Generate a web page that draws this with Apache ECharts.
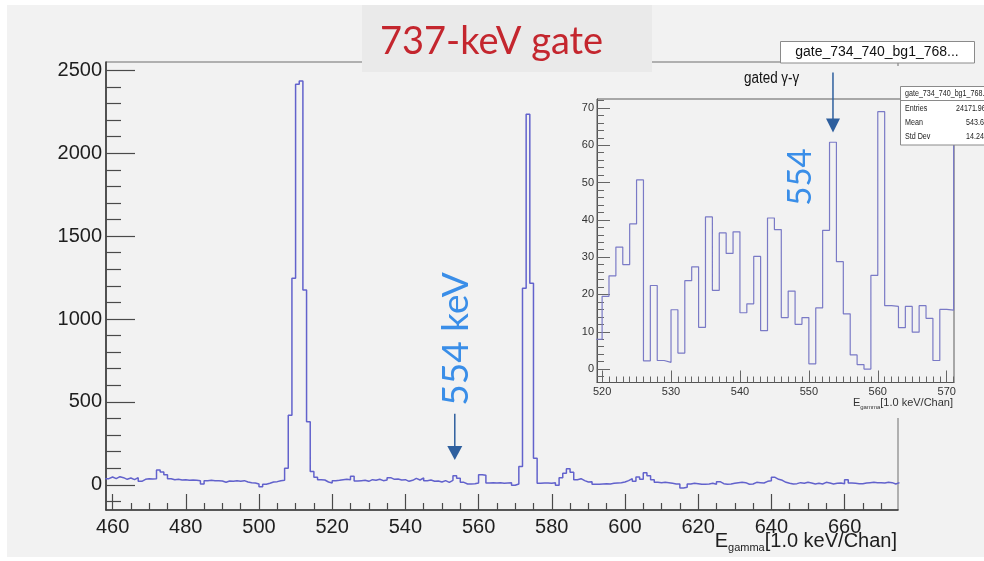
<!DOCTYPE html>
<html>
<head>
<meta charset="utf-8">
<script src="https://cdn.jsdelivr.net/npm/echarts@6/dist/echarts.min.js"></script>
<style>
  html, body { margin: 0; padding: 0; background: #ffffff; }
  #chart { width: 984px; height: 561px; }
</style>
</head>
<body>
<div id="chart"></div>
<script>
// Full spectrum, 1 keV bins, first bin starts at 458 keV
const spectrumStart = 458;
const spectrumCounts = [
  37, 47, 37, 49, 43, 33, 41, 31, 43, 21,      // 458-467
  33, 37, 35, 37, 90, 77, 61, 37, 31, 33,      // 468-477
  29, 31, 27, 29, 27, 25, 5, 25, 27, 25,       // 478-487
  25, 23, 15, 23, 21, 25, 21, 25, 17, 13,      // 488-497
  11, 5, -12, 3, 9, 17, 19, 25, 27, 100,       // 498-507
  420, 1245, 2416, 2435, 1175, 380, 80, 45, 31, 29, // 508-517
  17, 11, 25, 27, 31, 33, 31, 51, 23, 25,      // 518-527
  27, 21, 31, 27, 33, 25, 29, 43, 33, 35,      // 528-537
  29, 31, 21, 27, 39, 29, 41, 25, 29, 21,      // 538-547
  23, 17, 25, 15, 27, 55, 39, 15, 5, 5,        // 548-557
  7, 11, 61, 57, 11, 13, 11, 13, 9, 11,        // 558-567
  13, -3, 5, 110, 1185, 2235, 1215, 160, 9, 11, // 568-577
  11, 9, 13, -3, 43, 70, 97, 75, 31, 37,       // 578-587
  25, 17, 19, 3, 3, 5, 7, 5, 9, 11,            // 588-597
  13, 17, 25, 37, 21, 47, 33, 73, 55, 31,      // 598-607
  15, 13, 15, 13, 9, 5, 5, -19, -15, 5,        // 608-617
  9, 7, 3, 3, 5, 9, 3, 19, 7, 3,               // 618-627
  5, 9, 13, 15, 13, 3, 5, 15, 13, 11,          // 628-637
  21, 25, 45, 33, 27, 15, 9, 5, 7, 13,         // 638-647
  9, 15, 11, 5, 9, 5, 15, 11, 5, 9,            // 648-657
  11, 7, 31, 11, 9, 7, 7, 11, 13, 15,          // 658-667
  13, 13, 11, 15, 13, 5, 13                    // 668-674
];

// Gated gamma-gamma spectrum, 1 keV bins, first bin starts at 519 keV
const gatedStart = 519;
const gatedCounts = [
  8, 19.5, 25, 32.7, 28, 38.9, 50.7, 2.2, 22.4, 2.3,       // 519-528
  1.8, 15.9, 4.3, 23.7, 27.4, 11.2, 40.8, 21.1, 36.5, 31,  // 529-538
  36.8, 15.1, 17.5, 30.2, 10.3, 40.5, 37.4, 13.8, 20.9, 12, // 539-548
  13.8, 1.4, 16.4, 37.2, 60.8, 28.8, 14.8, 3.8, 1.2, 0,    // 549-558
  25.1, 69, 17, 16.8, 11.1, 16.8, 9.9, 17, 13.6, 2.3,      // 559-568
  16, 15.8, 110                                            // 569-571
];

// Tick labels
const mainXTicks = [460, 480, 500, 520, 540, 560, 580, 600, 620, 640, 660];
const mainYTicks = [0, 500, 1000, 1500, 2000, 2500];
const insetXTicks = [520, 530, 540, 550, 560, 570];
const insetYTicks = [0, 10, 20, 30, 40, 50, 60, 70];

// Marked line energy (keV, bin centre)
const markedEnergy = 553.5;

const SANS = "'Liberation Sans', Arial, Helvetica, sans-serif";
const NARROW = "'Liberation Sans Narrow', 'Arial Narrow', 'Liberation Sans', sans-serif";
const HUMAN = "Lato, 'Open Sans', sans-serif";

function range(from, to, step, skip) {
  const out = [];
  for (let v = from; v <= to + 1e-9; v += step) {
    if (!(skip && Math.abs(v % skip) < 1e-9)) out.push(v);
  }
  return out;
}

// Histogram outline: one point per bin low edge, plus the closing edge
function stepPoints(start, counts) {
  const pts = counts.map((c, i) => [start + i, c]);
  pts.push([start + counts.length, counts[counts.length - 1]]);
  return pts;
}

function majorAxis(gridIndex, min, max, ticks, tickLen, label) {
  return {
    type: 'value', gridIndex, min, max,
    axisLine: { show: true, onZero: false, lineStyle: { color: label.lineColor, width: label.lineWidth } },
    axisTick: { show: true, inside: true, length: tickLen, customValues: ticks,
      lineStyle: { color: label.tickColor, width: label.tickWidth } },
    axisLabel: { show: true, customValues: ticks, margin: label.margin, color: label.color,
      fontSize: label.fontSize, fontFamily: label.fontFamily, formatter: v => String(v) },
    splitLine: { show: false }, minorTick: { show: false }, z: label.z
  };
}
function minorAxis(gridIndex, min, max, ticks, tickLen, color, width, z) {
  return {
    type: 'value', gridIndex, min, max,
    axisLine: { show: false, onZero: false },
    axisTick: { show: true, inside: true, length: tickLen, customValues: ticks,
      lineStyle: { color, width } },
    axisLabel: { show: false },
    splitLine: { show: false }, z
  };
}

const MAIN_X = [458.2, 674.6];
const MAIN_Y = [-152, 2550];
const INSET_X = [519.26, 571.06];
const INSET_Y = [-3.6, 72.4];

const mainStyle = { lineColor: '#3a3a3a', lineWidth: 1.6, tickColor: '#4a4a4a', tickWidth: 1.2,
  color: '#1e1e1e', fontSize: 20, fontFamily: SANS, z: 1 };
const insetStyle = { lineColor: '#555555', lineWidth: 1, tickColor: '#666666', tickWidth: 1,
  color: '#333333', fontSize: 11, fontFamily: NARROW, z: 12 };

const chart = echarts.init(document.getElementById('chart'), null, { renderer: 'canvas' });

chart.setOption({
  animation: false,
  backgroundColor: '#ffffff',
  grid: [
    { left: 106, top: 62, right: 86, bottom: 51, show: true, borderColor: '#6f6f6f',
      borderWidth: 1, backgroundColor: 'transparent', containLabel: false, outerBoundsMode: 'none' },
    { left: 597, top: 99, width: 357, height: 283.5, show: true, borderColor: '#5c5c5c',
      borderWidth: 1, backgroundColor: 'transparent', containLabel: false, outerBoundsMode: 'none', z: 10 }
  ],
  xAxis: [
    Object.assign(majorAxis(0, MAIN_X[0], MAIN_X[1], mainXTicks, 16, Object.assign({ margin: 7 }, mainStyle)), { position: 'bottom' }),
    Object.assign(minorAxis(0, MAIN_X[0], MAIN_X[1], range(465, 670, 5, 20), 7, '#4a4a4a', 1.2, 1), { position: 'bottom' }),
    Object.assign(majorAxis(1, INSET_X[0], INSET_X[1], insetXTicks, 12, Object.assign({ margin: 4 }, insetStyle)), { position: 'bottom' }),
    Object.assign(minorAxis(1, INSET_X[0], INSET_X[1], range(520, 571, 1, 10), 6, '#666666', 1, 12), { position: 'bottom' })
  ],
  yAxis: [
    Object.assign(majorAxis(0, MAIN_Y[0], MAIN_Y[1], mainYTicks, 29, Object.assign({ margin: 4 }, mainStyle)), { position: 'left' }),
    Object.assign(minorAxis(0, MAIN_Y[0], MAIN_Y[1], range(-100, 2500, 100, 500), 15, '#4a4a4a', 1.2, 1), { position: 'left' }),
    Object.assign(majorAxis(1, INSET_Y[0], INSET_Y[1], insetYTicks, 13, Object.assign({ margin: 3 }, insetStyle)), { position: 'left' }),
    Object.assign(minorAxis(1, INSET_Y[0], INSET_Y[1], range(-2, 72, 2, 10), 7, '#666666', 1, 12), { position: 'left' })
  ],
  series: [
    {
      name: 'gate_734_740_bg1_768', type: 'line', xAxisIndex: 0, yAxisIndex: 0,
      data: stepPoints(spectrumStart, spectrumCounts), step: 'end',
      symbol: 'none', showSymbol: false, clip: true, silent: true, z: 3,
      lineStyle: { color: '#6262cc', width: 1.5 }
    },
    {
      name: 'gated', type: 'line', xAxisIndex: 2, yAxisIndex: 2,
      data: stepPoints(gatedStart, gatedCounts), step: 'end',
      symbol: 'none', showSymbol: false, clip: true, silent: true, z: 13,
      lineStyle: { color: '#7a7ac6', width: 1.2 }
    }
  ]
});

// Annotations
const measure = document.createElement('canvas').getContext('2d');
function textWidth(str, font) { measure.font = font; return measure.measureText(str).width; }

function axisTitle(rightX, midY, size, subSize, subDrop, family, color, z) {
  const main = '[1.0 keV/Chan]';
  const w1 = textWidth(main, size + 'px ' + family);
  const w2 = textWidth('gamma', subSize + 'px ' + family);
  const base = { fill: color, fontFamily: family, verticalAlign: 'middle', align: 'right' };
  return [
    { type: 'text', x: rightX, y: midY, z, style: Object.assign({ text: main, fontSize: size }, base) },
    { type: 'text', x: rightX - w1, y: midY + subDrop, z, style: Object.assign({ text: 'gamma', fontSize: subSize }, base) },
    { type: 'text', x: rightX - w1 - w2, y: midY, z, style: Object.assign({ text: 'E', fontSize: size }, base) }
  ];
}

function arrow(x, yTop, yTip, color, headW, headH, z) {
  return [
    { type: 'line', z, shape: { x1: x, y1: yTop, x2: x, y2: yTip - headH + 1 },
      style: { stroke: color, lineWidth: 1.5 } },
    { type: 'polygon', z, shape: { points: [[x - headW / 2, yTip - headH], [x + headW / 2, yTip - headH], [x, yTip]] },
      style: { fill: color } }
  ];
}

const mainArrowTop = chart.convertToPixel({ xAxisIndex: 0, yAxisIndex: 0 }, [markedEnergy, 428]);
const mainArrowTip = chart.convertToPixel({ xAxisIndex: 0, yAxisIndex: 0 }, [markedEnergy, 150]);
const insetArrowTop = chart.convertToPixel({ xAxisIndex: 2, yAxisIndex: 2 }, [markedEnergy, 79.5]);
const insetArrowTip = chart.convertToPixel({ xAxisIndex: 2, yAxisIndex: 2 }, [markedEnergy, 63.4]);

const ARROW = '#2e5f9e';
const NOTE = '#3a8ee8';

function narrowText(x, y, text, size, align, fill) {
  return { type: 'text', z: 21, x, y, scaleX: 0.84, originX: 0, originY: 0,
    style: { text, fill, fontSize: size, fontFamily: SANS, align, verticalAlign: 'middle' } };
}

const graphics = [
  // slide background
  { type: 'rect', z: -10, shape: { x: 7, y: 5, width: 977, height: 552 }, style: { fill: '#f2f2f2' } },
  // pad holding the gated spectrum
  { type: 'rect', z: 5, shape: { x: 566, y: 66, width: 418, height: 352 }, style: { fill: '#f2f2f2' } },
  // headline
  { type: 'rect', z: 20, shape: { x: 362, y: 5, width: 290, height: 67 }, style: { fill: '#eaeaea' } },
  { type: 'text', z: 21, x: 380, y: 42, style: { text: '737-keV gate', fill: '#c4262e', fontSize: 38,
      fontFamily: HUMAN, align: 'left', verticalAlign: 'middle' } },
  // histogram title box
  { type: 'rect', z: 20, shape: { x: 780.5, y: 41.5, width: 194, height: 21.5 },
    style: { fill: '#ffffff', stroke: '#8a8a8a', lineWidth: 1 } },
  { type: 'text', z: 21, x: 877, y: 52.5, style: { text: 'gate_734_740_bg1_768...', fill: '#111111',
      fontSize: 14, fontFamily: SANS, align: 'center', verticalAlign: 'middle' } },
  // statistics box of the gated spectrum
  { type: 'rect', z: 20, shape: { x: 900.5, y: 86.5, width: 92, height: 58.5 },
    style: { fill: '#ffffff', stroke: '#8a8a8a', lineWidth: 1 } },
  { type: 'line', z: 21, shape: { x1: 900.5, y1: 100.5, x2: 984, y2: 100.5 }, style: { stroke: '#8a8a8a', lineWidth: 1 } },
  narrowText(905, 94, 'gate_734_740_bg1_768...', 8.5, 'left', '#222'),
  narrowText(905, 109, 'Entries', 8.5, 'left', '#222'),
  narrowText(905, 123, 'Mean', 8.5, 'left', '#222'),
  narrowText(905, 137, 'Std Dev', 8.5, 'left', '#222'),
  narrowText(956, 109, '24171.96', 8.5, 'left', '#222'),
  narrowText(966, 123, '543.6', 8.5, 'left', '#222'),
  narrowText(966, 137, '14.24', 8.5, 'left', '#222'),
  // line labels
  { type: 'text', z: 21, x: 456, y: 339, rotation: Math.PI / 2, style: { text: '554 keV', fill: NOTE,
      fontSize: 37, fontFamily: HUMAN, align: 'center', verticalAlign: 'middle' } },
  { type: 'text', z: 21, x: 800, y: 177, rotation: Math.PI / 2, style: { text: '554', fill: NOTE,
      fontSize: 33, fontFamily: HUMAN, align: 'center', verticalAlign: 'middle' } },
  narrowText(744, 79, 'gated γ-γ', 16, 'left', '#111111')
]
  .concat(arrow(mainArrowTop[0], mainArrowTop[1], mainArrowTip[1], ARROW, 15, 14, 21))
  .concat(arrow(insetArrowTop[0], insetArrowTop[1], insetArrowTip[1], ARROW, 14, 14, 21))
  .concat(axisTitle(897, 541, 20, 11, 7, SANS, '#1e1e1e', 21))
  .concat(axisTitle(953, 403, 11, 6, 4, NARROW, '#333333', 21));

chart.setOption({ graphic: graphics });
</script>
</body>
</html>
